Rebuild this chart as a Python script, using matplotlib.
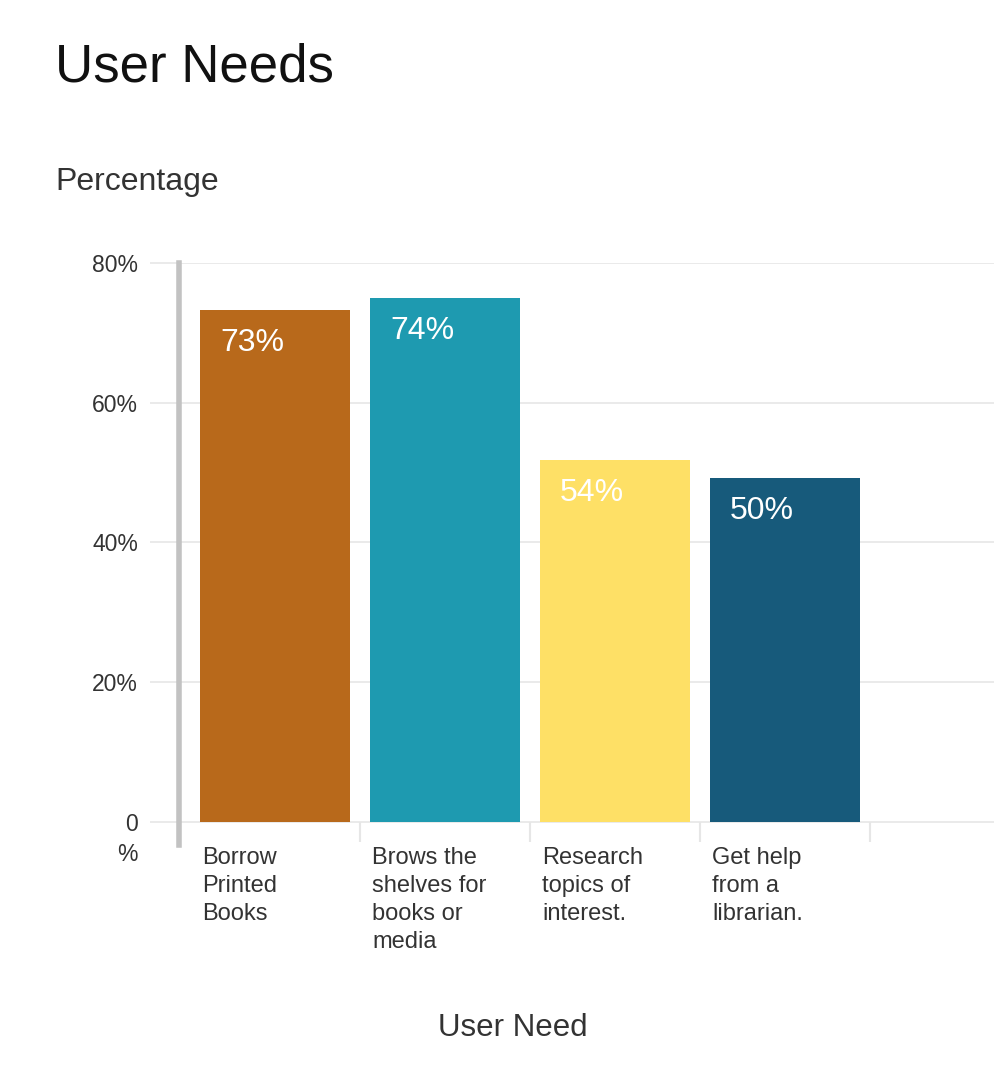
import matplotlib.pyplot as plt
from matplotlib.transforms import blended_transform_factory

plt.rcParams["font.family"] = ["Liberation Sans", "DejaVu Sans"]

categories = [
    "Borrow\nPrinted\nBooks",
    "Brows the\nshelves for\nbooks or\nmedia",
    "Research\ntopics of\ninterest.",
    "Get help\nfrom a\nlibrarian.",
]
values = [73.3, 75.0, 51.8, 49.2]
labels = ["73%", "74%", "54%", "50%"]
colors = ["#b8691b", "#1e9ab0", "#fee066", "#175a7b"]
yticks = [0, 20, 40, 60, 80]

PX = 72 / 100  # points per pixel at dpi 100

fig = plt.figure(figsize=(9.94, 10.8), dpi=100)
W, H = 994, 1080
ax = fig.add_axes([179 / W, 1 - 845 / H, (994 - 179) / W, (845 - 263) / H])

x = list(range(len(values)))
bw = 150 / 170
ax.bar(x, values, width=bw, color=colors, zorder=2)

for xi, v, lab in zip(x, values, labels):
    ax.annotate(lab, (xi - bw / 2, v), xytext=(20, -18),
                textcoords="offset pixels", ha="left", va="top",
                color="white", fontsize=23)

ax.set_xlim(-0.565, 4.23)
ax.set_ylim(-3.3, 80)

ax.set_yticks(yticks)
ax.set_yticklabels([f"{t}%" if t else "" for t in yticks], fontsize=16.5, color="#333333")
ax.tick_params(axis="y", length=29 * PX, width=1.2, color="#e6e6e6", pad=12 * PX)
ax.grid(axis="y", color="#e6e6e6", linewidth=1.2, zorder=0)
ax.set_axisbelow(True)

trans = blended_transform_factory(ax.transAxes, ax.transData)
x0 = -(179 - 138) / (994 - 179)
ax.text(x0, -0.4, "0", transform=trans, ha="right", va="center",
        fontsize=16.5, color="#333333")
ax.text(x0, -4.7, "%", transform=trans, ha="right", va="center",
        fontsize=16.5, color="#333333")

# category separators hanging from the zero line
ax.spines["bottom"].set_position(("data", 0))
ax.spines["bottom"].set_visible(False)
ax.set_xticks([i + 0.5 for i in range(len(values))], minor=True)
ax.tick_params(axis="x", which="minor", length=20 * PX, width=1.5,
               color="#e6e6e6", direction="out")
ax.set_xticks([])
for xi, cat in zip(x, categories):
    ax.annotate(cat, (xi - bw / 2, 0), xytext=(2, -25),
                textcoords="offset pixels", ha="left", va="top",
                fontsize=17, color="#333333", linespacing=1.36)

for side in ["top", "right"]:
    ax.spines[side].set_visible(False)
ax.spines["left"].set_color("#c2c2c2")
ax.spines["left"].set_linewidth(4)
ax.spines["left"].set_bounds(-3.3, 80)

fig.text(55 / W, 1 - 82 / H, "User Needs", fontsize=38, color="#111111",
         ha="left", va="baseline")
fig.text(55 / W, 1 - 190 / H, "Percentage", fontsize=23, color="#333333",
         ha="left", va="baseline")
fig.text(513 / W, 1 - 1036 / H, "User Need", fontsize=22.5, color="#333333",
         ha="center", va="baseline")

fig.savefig("out.png", dpi=100, facecolor="white")
